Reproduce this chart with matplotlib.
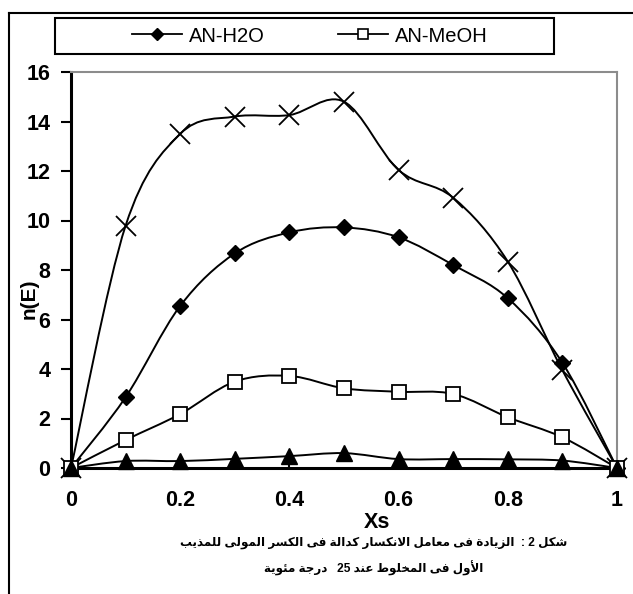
import re
import matplotlib
matplotlib.use("Agg")
import matplotlib.pyplot as plt
from matplotlib.path import Path
from matplotlib.patches import PathPatch, Rectangle
from matplotlib.lines import Line2D

# ---------------- data ----------------
xs = [0, 0.1, 0.2, 0.3, 0.4, 0.5, 0.6, 0.7, 0.8, 0.9, 1.0]
an_h2o = [0, 2.86, 6.55, 8.67, 9.52, 9.72, 9.32, 8.2, 6.86, 4.25, 0]
an_meoh = [0, 1.13, 2.18, 3.49, 3.72, 3.22, 3.08, 2.99, 2.05, 1.24, 0]
series_x = [0, 9.79, 13.5, 14.2, 14.26, 14.8, 12.04, 10.92, 8.34, 3.95, 0]
series_tri = [0, 0.28, 0.28, 0.37, 0.48, 0.6, 0.36, 0.36, 0.35, 0.3, 0]
legend_labels = ["AN-H2O", "AN-MeOH"]
x_ticks = [0, 0.2, 0.4, 0.6, 0.8, 1]
x_tick_labels = ["0", "0.2", "0.4", "0.6", "0.8", "1"]
y_ticks = [0, 2, 4, 6, 8, 10, 12, 14, 16]
x_title = "Xs"
y_title = "n(E)"
caption1 = "شكل 2 :  الزيادة فى معامل الانكسار كدالة فى الكسر المولى للمذيب"
caption2 = "الأول فى المخلوط عند 25   درجة مئوية"

# ---------------- arabic shaping (presentation forms + visual order) ----------------
FORMS = {
    '\u0627': ('\uFE8D', '\uFE8E', None, None),
    '\u0623': ('\uFE83', '\uFE84', None, None),
    '\u0628': ('\uFE8F', '\uFE90', '\uFE91', '\uFE92'),
    '\u0629': ('\uFE93', '\uFE94', None, None),
    '\u062C': ('\uFE9D', '\uFE9E', '\uFE9F', '\uFEA0'),
    '\u062E': ('\uFEA5', '\uFEA6', '\uFEA7', '\uFEA8'),
    '\u062F': ('\uFEA9', '\uFEAA', None, None),
    '\u0630': ('\uFEAB', '\uFEAC', None, None),
    '\u0631': ('\uFEAD', '\uFEAE', None, None),
    '\u0632': ('\uFEAF', '\uFEB0', None, None),
    '\u0633': ('\uFEB1', '\uFEB2', '\uFEB3', '\uFEB4'),
    '\u0634': ('\uFEB5', '\uFEB6', '\uFEB7', '\uFEB8'),
    '\u0637': ('\uFEC1', '\uFEC2', '\uFEC3', '\uFEC4'),
    '\u0639': ('\uFEC9', '\uFECA', '\uFECB', '\uFECC'),
    '\u0641': ('\uFED1', '\uFED2', '\uFED3', '\uFED4'),
    '\u0643': ('\uFED9', '\uFEDA', '\uFEDB', '\uFEDC'),
    '\u0644': ('\uFEDD', '\uFEDE', '\uFEDF', '\uFEE0'),
    '\u0645': ('\uFEE1', '\uFEE2', '\uFEE3', '\uFEE4'),
    '\u0646': ('\uFEE5', '\uFEE6', '\uFEE7', '\uFEE8'),
    '\u0648': ('\uFEED', '\uFEEE', None, None),
    '\u0649': ('\uFEEF', '\uFEF0', None, None),
    '\u064A': ('\uFEF1', '\uFEF2', '\uFEF3', '\uFEF4'),
    '\u0626': ('\uFE89', '\uFE8A', '\uFE8B', '\uFE8C'),
}
LAMALEF = {'\u0627': ('\uFEFB', '\uFEFC'), '\u0623': ('\uFEF7', '\uFEF8')}


def _dual(c):
    return c in FORMS and FORMS[c][2] is not None


def shape(s):
    out = []
    i = 0
    n = len(s)
    while i < n:
        c = s[i]
        if c not in FORMS:
            out.append(c)
            i += 1
            continue
        pj = i > 0 and _dual(s[i - 1])
        if c == '\u0644' and i + 1 < n and s[i + 1] in LAMALEF:
            iso, fin = LAMALEF[s[i + 1]]
            out.append(fin if pj else iso)
            i += 2
            continue
        nj = i + 1 < n and s[i + 1] in FORMS and _dual(c)
        iso, fin, ini, med = FORMS[c]
        if pj and nj:
            out.append(med)
        elif pj:
            out.append(fin)
        elif nj:
            out.append(ini)
        else:
            out.append(iso)
        i += 1
    return ''.join(out)


def visual(s):
    r = shape(s)[::-1]
    return re.sub(r'[0-9]+', lambda m: m.group(0)[::-1], r)


# ---------------- smooth (Excel-like) bezier path ----------------
def smooth_path(x, y, t=1.0 / 6.0):
    pts = list(zip(x, y))
    n = len(pts)
    verts = [pts[0]]
    codes = [Path.MOVETO]
    for i in range(n - 1):
        p0 = pts[i - 1] if i > 0 else pts[i]
        p1 = pts[i]
        p2 = pts[i + 1]
        p3 = pts[i + 2] if i + 2 < n else pts[i + 1]
        c1 = (p1[0] + (p2[0] - p0[0]) * t, p1[1] + (p2[1] - p0[1]) * t)
        c2 = (p2[0] - (p3[0] - p1[0]) * t, p2[1] - (p3[1] - p1[1]) * t)
        verts += [c1, c2, p2]
        codes += [Path.CURVE4] * 3
    return Path(verts, codes)


# ---------------- figure ----------------
plt.rcParams['font.family'] = ['Liberation Sans', 'DejaVu Sans']
W, H = 633, 594
fig = plt.figure(figsize=(W / 100, H / 100), dpi=100)


def fx(px):
    return px / W


def fy(py):
    return 1 - py / H


ax = fig.add_axes([fx(71), fy(468), fx(617) - fx(71), fy(72) - fy(468)])
ax.set_xlim(0, 1)
ax.set_ylim(0, 16)

lw = 1.4
series = [
    (series_x, dict(marker='x', markersize=14, markeredgewidth=1.3,
                    markerfacecolor='none', markeredgecolor='k')),
    (an_h2o, dict(marker='D', markersize=7.8, markerfacecolor='k', markeredgecolor='k')),
    (an_meoh, dict(marker='s', markersize=10, markerfacecolor='white',
                   markeredgecolor='k', markeredgewidth=1.3)),
    (series_tri, dict(marker='^', markersize=11.5, markerfacecolor='k', markeredgecolor='k')),
]
for ys, mk in series:
    ax.add_patch(PathPatch(smooth_path(xs, ys), facecolor='none', edgecolor='k',
                           lw=lw, clip_on=False, zorder=2))
    ax.plot(xs, ys, linestyle='none', clip_on=False, zorder=3, **mk)

ax.set_xticks(x_ticks)
ax.set_xticklabels(x_tick_labels)
ax.set_yticks(y_ticks)
for lab in ax.get_xticklabels() + ax.get_yticklabels():
    lab.set_fontweight('bold')
    lab.set_fontsize(15.5)
ax.tick_params(axis='y', direction='out', length=7, width=1.5, pad=8)
ax.tick_params(axis='x', direction='in', length=5, width=1.5, pad=16)

for side in ['left', 'bottom']:
    ax.spines[side].set_color('k')
    ax.spines[side].set_linewidth(2.2)
for side in ['top', 'right']:
    ax.spines[side].set_color('#8c8c8c')
    ax.spines[side].set_linewidth(1.5)

# axis titles
fig.text(fx(377), fy(522), x_title, ha='center', va='center',
         fontsize=15.5, fontweight='bold')
fig.text(fx(29), fy(299), y_title, ha='center', va='center', rotation=90,
         fontsize=15, fontweight='bold')

# caption (Arabic)
fig.text(fx(374), fy(543), visual(caption1), ha='center', va='center',
         fontsize=8.6, fontweight='bold')
fig.text(fx(374), fy(568), visual(caption2), ha='center', va='center',
         fontsize=8.6, fontweight='bold')

# outer frame (left and top edges)
fig.add_artist(Line2D([fx(9), fx(9)], [fy(594), fy(12.7)], color='k', lw=1.5))
fig.add_artist(Line2D([fx(9), fx(633)], [fy(12.7), fy(12.7)], color='k', lw=1.5))

# legend box
fig.add_artist(Rectangle((fx(55), fy(54)), fx(554) - fx(55), fy(18) - fy(54),
                         transform=fig.transFigure, facecolor='white',
                         edgecolor='k', lw=1.5))
handles = [
    Line2D([], [], color='k', lw=1.3, marker='D', markersize=6.2,
           markerfacecolor='k', markeredgecolor='k'),
    Line2D([], [], color='k', lw=1.3, marker='s', markersize=7.5,
           markerfacecolor='white', markeredgecolor='k', markeredgewidth=1.2),
]
fig.legend(handles, legend_labels, loc='center', bbox_to_anchor=(fx(310), fy(36)),
           ncol=2, frameon=False, fontsize=14.5, handlelength=2.5,
           handletextpad=0.35, columnspacing=3.6, borderpad=0, borderaxespad=0)

fig.savefig('out.png', dpi=100)
